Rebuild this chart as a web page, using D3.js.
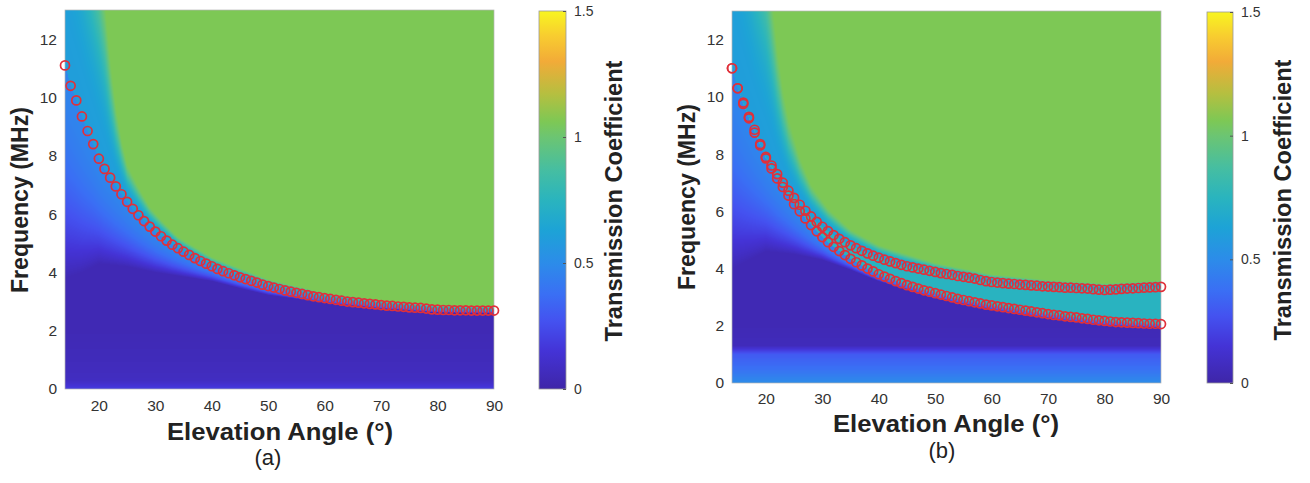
<!DOCTYPE html>
<html>
<head>
<meta charset="utf-8">
<script src="https://cdn.jsdelivr.net/npm/d3@7"></script>
<style>
  body { margin: 0; background: #fff; }
  text { font-family: "Liberation Sans", Arial, Helvetica, sans-serif; }
</style>
</head>
<body>
<svg id="fig" width="1310" height="483"></svg>
<script>

// marker angles (deg), one circle per degree
var angles = d3.range(14, 91);

// (a) cutoff frequency (MHz) at each angle, red circles
var cutoffA = [11.10,10.40,9.90,9.35,8.85,8.40,7.90,7.55,7.25,6.95,
               6.68,6.42,6.18,5.96,5.76,5.57,5.40,5.24,5.09,4.95,
               4.83,4.71,4.60,4.49,4.39,4.30,4.21,4.12,4.04,3.97,
               3.90,3.83,3.77,3.71,3.65,3.58,3.53,3.48,3.43,3.38,
               3.34,3.30,3.26,3.22,3.18,3.15,3.12,3.09,3.06,3.03,
               3.00,2.98,2.96,2.94,2.92,2.90,2.88,2.86,2.85,2.83,
               2.82,2.80,2.79,2.78,2.76,2.73,2.72,2.71,2.71,2.70,
               2.70,2.70,2.69,2.69,2.69,2.69,2.69];

// (b) upper and lower cutoff curves (MHz)
var upperB = [11.00,10.30,9.80,9.30,8.85,8.35,7.90,7.60,7.30,7.00,
              6.72,6.47,6.23,6.02,5.82,5.63,5.46,5.31,5.17,5.04,
              4.92,4.81,4.71,4.62,4.53,4.45,4.38,4.31,4.25,4.19,
              4.13,4.08,4.04,4.00,3.96,3.92,3.88,3.84,3.81,3.78,
              3.74,3.71,3.68,3.65,3.60,3.56,3.53,3.51,3.49,3.47,
              3.46,3.44,3.43,3.41,3.40,3.38,3.37,3.36,3.35,3.33,
              3.33,3.32,3.31,3.30,3.28,3.26,3.25,3.26,3.27,3.29,
              3.30,3.31,3.32,3.33,3.34,3.35,3.36];
var lowerB = [11.00,10.30,9.75,9.25,8.75,8.30,7.85,7.50,7.15,6.85,
              6.55,6.25,6.00,5.75,5.52,5.30,5.10,4.92,4.76,4.61,
              4.47,4.34,4.22,4.11,4.00,3.90,3.80,3.72,3.64,3.56,
              3.49,3.42,3.36,3.30,3.24,3.19,3.14,3.09,3.04,2.99,
              2.94,2.90,2.86,2.82,2.78,2.74,2.71,2.68,2.65,2.62,
              2.59,2.56,2.53,2.50,2.47,2.44,2.41,2.38,2.36,2.33,
              2.31,2.29,2.26,2.24,2.21,2.19,2.17,2.15,2.13,2.12,
              2.11,2.10,2.09,2.08,2.07,2.07,2.06];

var greenAngA = [14,16,18,20,21,22,23,24,25,27,29,31,34,40,50,60,70,80,90];
var greenA    = [24,21,18,15.5,13.8,11.6,9.9,8.7,7.8,7.0,6.3,5.85,5.25,4.55,3.78,3.32,3.06,2.9,2.85];
var greenAngB = [14,16,18,20,21,22,23,24,26,28,31,35,40,50,60,70,80,90];
var greenB    = [24,21,18,16,14,12,10.5,9.4,8.0,7.0,6.15,5.4,4.85,4.22,3.82,3.62,3.5,3.6];

// frequency below which the map is fully dark (T~0)
var darkAngA = [14,17,20,25,30,35,40,45,50,60,70,80,90];
var darkA    = [3.8,4.0,4.3,4.2,4.0,3.85,3.7,3.45,3.22,2.95,2.75,2.62,2.6];
var darkAngB = [14,17,20,25,30,35,40,50,60,70,80,90];
var darkB    = [4.0,4.3,4.6,4.5,4.3,3.95,3.55,2.95,2.55,2.25,2.0,1.92];

// low frequency floor of the maps
var floorFreqA = [0, 0.12, 0.3, 1.0, 2.0];
var floorValA  = [0.2, 0.14, 0.08, 0.06, 0.04];
var floorFreqB = [0, 0.5, 1.0, 1.3, 2.0];
var floorValB  = [0.5, 0.38, 0.3, 0.06, 0.04];

// transmission levels
var T_GREEN = 1.06, T_ABOVE = 0.6, T_BELOW = 0.47, T_BAND = 0.74;

var xTicks = [20, 30, 40, 50, 60, 70, 80, 90];
var yTicks = [0, 2, 4, 6, 8, 10, 12];
var cbTicks = [0, 0.5, 1, 1.5];

// parula-like colormap
var cmapVals = [0, 0.15, 0.27, 0.375, 0.5, 0.63, 0.75, 0.87, 1.0, 1.06, 1.17, 1.3, 1.4, 1.5];
var cmapCols = ["#3e26a8","#4433d6","#4452f0","#3a6ff4","#2c8ce9","#1da3d6","#2ab4be",
                "#46bea1","#6cc572","#7dc855","#b5bf40","#f2ab38","#f8cc30","#f8f520"];

var color = d3.scaleLinear().domain(cmapVals).range(cmapCols).clamp(true);
var lut = d3.range(301).map(function(i){ return d3.rgb(color(i * 1.5 / 300)); });

var svg = d3.select("#fig");

function clamp01(t) { return Math.max(0, Math.min(1, t)); }
// soft at both ends, slow start so the band over the markers stays light
function riseUp(t) { t = clamp01(t); return Math.pow(t * t * (3 - 2 * t), 1.5); }
function easeOut(t) { t = clamp01(t); return 1 - (1 - t) * (1 - t); }

var cutA = d3.scaleLinear().domain(angles).range(cutoffA);
var upB = d3.scaleLinear().domain(angles).range(upperB);
var loB = d3.scaleLinear().domain(angles).range(lowerB);
var gA = d3.scaleLinear().domain(greenAngA).range(greenA);
var gB = d3.scaleLinear().domain(greenAngB).range(greenB);
var dA = d3.scaleLinear().domain(darkAngA).range(darkA);
var dB = d3.scaleLinear().domain(darkAngB).range(darkB);
var flA = d3.scaleLinear().domain(floorFreqA).range(floorValA).clamp(true);
var flB = d3.scaleLinear().domain(floorFreqB).range(floorValB).clamp(true);

function fieldA(a, f) {
  var c = cutA(a), g = gA(a), d = dA(a), fl = flA(f);
  if (f >= g) return T_GREEN;
  if (f >= c) return T_ABOVE + (T_GREEN - T_ABOVE) * riseUp((f - c) / (g - c));
  if (f <= d) return fl;
  return fl + (T_BELOW - fl) * easeOut((f - d) / (c - d));
}

function fieldB(a, f) {
  var cu = upB(a), cl = loB(a), g = gB(a), d = dB(a), fl = flB(f);
  if (f >= g) return T_GREEN;
  if (f >= cu) return T_ABOVE + (T_GREEN - T_ABOVE) * riseUp((f - cu) / (g - cu));
  if (f >= cl) return T_BAND;
  if (f <= d) return fl;
  return fl + (T_BELOW - fl) * easeOut((f - d) / (cl - d));
}

function panel(p) {
  var x = d3.scaleLinear().domain([14, 90]).range([p.left, p.right]);
  var y = d3.scaleLinear().domain([0, 13]).range([p.bottom, p.top]);

  // heat map, one pixel per cell
  var w = Math.round(p.right - p.left), h = Math.round(p.bottom - p.top);
  var cv = document.createElement("canvas");
  cv.width = w; cv.height = h;
  var ctx = cv.getContext("2d");
  var img = ctx.createImageData(w, h);
  for (var j = 0; j < h; j++) {
    var f = y.invert(p.top + j + 0.5);
    for (var i = 0; i < w; i++) {
      var a = x.invert(p.left + i + 0.5);
      var v = p.field(a, f);
      var c = lut[Math.max(0, Math.min(300, Math.round(v / 1.5 * 300)))];
      var k = (j * w + i) * 4;
      img.data[k] = c.r; img.data[k + 1] = c.g; img.data[k + 2] = c.b; img.data[k + 3] = 255;
    }
  }
  ctx.putImageData(img, 0, 0);

  svg.append("image")
    .attr("x", p.left).attr("y", p.top)
    .attr("width", w).attr("height", h)
    .attr("preserveAspectRatio", "none")
    .attr("href", cv.toDataURL());

  svg.append("rect")
    .attr("x", p.left).attr("y", p.top)
    .attr("width", w).attr("height", h)
    .attr("fill", "none").attr("stroke", "#b5b5b5").attr("stroke-width", 0.7);

  // red markers
  p.series.forEach(function(s) {
    svg.append("g").selectAll("circle")
      .data(angles)
      .enter()
      .append("circle")
      .attr("cx", function(d) { return x(d); })
      .attr("cy", function(d, i) { return y(s[i]); })
      .attr("r", 4.5)
      .attr("fill", "none")
      .attr("stroke", "#e0303a")
      .attr("stroke-width", 1.7);
  });

  // axes
  var gx = svg.append("g")
    .attr("transform", "translate(0," + p.bottom + ")")
    .call(d3.axisBottom(x).tickValues(xTicks).tickSize(0).tickPadding(p.xpad));
  var gy = svg.append("g")
    .attr("transform", "translate(" + p.left + ",0)")
    .call(d3.axisLeft(y).tickValues(yTicks).tickSize(0).tickPadding(8));
  [gx, gy].forEach(function(g) {
    g.select(".domain").remove();
    g.selectAll("text").attr("font-size", 15.5).attr("fill", "#333");
  });

  svg.append("text")
    .attr("transform", "translate(" + p.ylab[0] + "," + p.ylab[1] + ") rotate(-90)")
    .attr("text-anchor", "middle")
    .attr("font-size", 23).attr("font-weight", "bold").attr("fill", "#222")
    .attr("textLength", 186).attr("lengthAdjust", "spacingAndGlyphs")
    .text("Frequency (MHz)");

  svg.append("text")
    .attr("x", p.xlab[0]).attr("y", p.xlab[1])
    .attr("text-anchor", "middle")
    .attr("font-size", 23).attr("font-weight", "bold").attr("fill", "#222")
    .attr("textLength", 226).attr("lengthAdjust", "spacingAndGlyphs")
    .text("Elevation Angle (°)");

  svg.append("text")
    .attr("x", p.tag[0]).attr("y", p.tag[1])
    .attr("text-anchor", "middle")
    .attr("font-size", 22).attr("fill", "#222")
    .text(p.name);

  // colorbar
  var cy = d3.scaleLinear().domain([0, 1.5]).range([p.bottom, p.top + 1]);
  var gid = "cb" + p.name.replace(/\W/g, "");
  var grad = svg.append("defs").append("linearGradient")
    .attr("id", gid)
    .attr("x1", 0).attr("y1", 1).attr("x2", 0).attr("y2", 0);
  grad.selectAll("stop")
    .data(cmapVals)
    .enter()
    .append("stop")
    .attr("offset", function(d) { return d / 1.5; })
    .attr("stop-color", function(d, i) { return cmapCols[i]; });

  svg.append("rect")
    .attr("x", p.cbx).attr("y", cy(1.5))
    .attr("width", p.cbw).attr("height", cy(0) - cy(1.5))
    .attr("fill", "url(#" + gid + ")")
    .attr("stroke", "#999").attr("stroke-width", 0.8);

  var gc = svg.append("g")
    .attr("transform", "translate(" + (p.cbx + p.cbw) + ",0)")
    .call(d3.axisRight(cy).tickValues(cbTicks).tickSize(-3).tickPadding(8)
      .tickFormat(function(d) { return String(d); }));
  gc.select(".domain").remove();
  gc.selectAll("line").attr("stroke", "#555");
  gc.selectAll("text").attr("font-size", 14).attr("fill", "#333");

  svg.append("text")
    .attr("transform", "translate(" + p.cblab[0] + "," + p.cblab[1] + ") rotate(-90)")
    .attr("text-anchor", "middle")
    .attr("font-size", 23).attr("font-weight", "bold").attr("fill", "#222")
    .attr("textLength", 281).attr("lengthAdjust", "spacingAndGlyphs")
    .text("Transmission Coefficient");
}

panel({
  name: "(a)", field: fieldA, series: [cutoffA],
  left: 65, right: 494, top: 10, bottom: 389, xpad: 11,
  cbx: 539, cbw: 27,
  ylab: [28, 200], xlab: [280, 440], tag: [268, 465], cblab: [622, 201]
});

panel({
  name: "(b)", field: fieldB, series: [upperB, lowerB],
  left: 732, right: 1161, top: 11, bottom: 383, xpad: 10,
  cbx: 1207, cbw: 26,
  ylab: [695, 197], xlab: [946, 432], tag: [942, 458], cblab: [1291, 200]
});

</script>
</body>
</html>
